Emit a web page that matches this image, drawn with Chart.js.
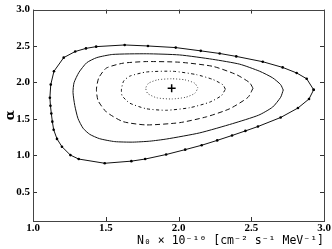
<!DOCTYPE html>
<html>
<head>
<meta charset="utf-8">
<script src="https://cdn.jsdelivr.net/npm/chart.js@4"></script>
<style>
  body { margin: 0; background: #fff; }
  canvas { display: block; }
</style>
</head>
<body>
<canvas id="grafico" width="332" height="249"></canvas>
<script>
// ticks
const ticksN0 = [1.0, 1.5, 2.0, 2.5, 3.0];
const ticksAlpha = [0.5, 1.0, 1.5, 2.0, 2.5, 3.0];

// contorno externo (com pontos)
const externoN0 = [2.929, 2.881, 2.812, 2.716, 2.579, 2.397, 2.283, 2.153, 1.981, 1.790, 1.630, 1.434, 1.364, 1.290, 1.211, 1.144, 1.122, 1.116, 1.120, 1.126, 1.133, 1.142, 1.165, 1.199, 1.257, 1.314, 1.493, 1.676, 1.771, 1.915, 2.046, 2.159, 2.266, 2.368, 2.460, 2.546, 2.702, 2.821, 2.897];
const externoAlpha = [1.900, 2.051, 2.131, 2.207, 2.285, 2.358, 2.398, 2.434, 2.479, 2.501, 2.515, 2.492, 2.468, 2.425, 2.341, 2.154, 1.971, 1.790, 1.680, 1.574, 1.463, 1.352, 1.226, 1.119, 1.004, 0.950, 0.892, 0.921, 0.950, 1.012, 1.079, 1.139, 1.206, 1.273, 1.336, 1.396, 1.520, 1.650, 1.774];

// segundo contorno (linha cheia)
const segundoN0 = [2.720, 2.702, 2.647, 2.558, 2.421, 2.235, 2.008, 1.779, 1.548, 1.438, 1.369, 1.316, 1.282, 1.275, 1.287, 1.309, 1.344, 1.390, 1.458, 1.562, 1.685, 1.802, 1.919, 2.146, 2.372, 2.551, 2.647, 2.702];
const segundoAlpha = [1.897, 1.971, 2.064, 2.154, 2.251, 2.318, 2.378, 2.394, 2.385, 2.341, 2.271, 2.140, 1.997, 1.864, 1.686, 1.507, 1.373, 1.289, 1.229, 1.189, 1.182, 1.195, 1.225, 1.309, 1.436, 1.552, 1.663, 1.797];

// terceiro contorno (tracejado)
const tracejadoN0 = [2.512, 2.489, 2.398, 2.237, 2.008, 1.779, 1.619, 1.504, 1.452, 1.436, 1.447, 1.504, 1.619, 1.779, 2.008, 2.192, 2.352, 2.478];
const tracejadoAlpha = [1.921, 1.997, 2.108, 2.221, 2.278, 2.287, 2.265, 2.198, 2.064, 1.908, 1.753, 1.596, 1.463, 1.418, 1.449, 1.529, 1.640, 1.797];

// quarto contorno (traco-ponto)
const tracoPontoN0 = [2.322, 2.306, 2.237, 2.123, 1.962, 1.779, 1.665, 1.623, 1.608, 1.612, 1.665, 1.779, 1.917, 2.077, 2.214, 2.295];
const tracoPontoAlpha = [1.908, 1.967, 2.041, 2.108, 2.154, 2.144, 2.087, 2.020, 1.908, 1.820, 1.717, 1.640, 1.619, 1.654, 1.730, 1.820];

// contorno interno (pontilhado)
const internoN0 = [2.134, 2.111, 2.043, 1.953, 1.857, 1.795, 1.775, 1.788, 1.850, 1.953, 2.049, 2.111];
const internoAlpha = [1.924, 1.991, 2.037, 2.051, 2.037, 1.991, 1.924, 1.850, 1.790, 1.774, 1.797, 1.850];

// melhor ajuste
const melhorN0 = [1.953];
const melhorAlpha = [1.921];

function fecharContorno(xs, ys) {
  const pts = xs.map((x, i) => ({ x: x, y: ys[i] }));
  pts.push(pts[0]);
  return pts;
}

function contorno(xs, ys, dash, extra) {
  return Object.assign({
    data: fecharContorno(xs, ys),
    showLine: true,
    fill: false,
    borderColor: '#111',
    borderWidth: 1,
    borderDash: dash,
    pointRadius: 0,
    tension: 0.2
  }, extra || {});
}

// ticks para dentro e moldura
const moldura = {
  id: 'moldura',
  afterDatasetsDraw(chart) {
    const { ctx, chartArea: a, scales } = chart;
    ctx.save();
    ctx.strokeStyle = '#333';
    ctx.lineWidth = 1;
    ctx.beginPath();
    ticksN0.forEach((v) => {
      const px = Math.round(scales.x.getPixelForValue(v)) + 0.5;
      ctx.moveTo(px, a.bottom); ctx.lineTo(px, a.bottom - 4);
      ctx.moveTo(px, a.top); ctx.lineTo(px, a.top + 4);
    });
    ticksAlpha.forEach((v) => {
      const py = Math.round(scales.y.getPixelForValue(v)) + 0.5;
      ctx.moveTo(a.left, py); ctx.lineTo(a.left + 4, py);
      ctx.moveTo(a.right, py); ctx.lineTo(a.right - 4, py);
    });
    ctx.stroke();
    ctx.strokeStyle = '#444';
    ctx.strokeRect(Math.round(a.left) + 0.5, Math.round(a.top) + 0.5,
      Math.round(a.right - a.left), Math.round(a.bottom - a.top));
    ctx.restore();
  }
};

Chart.defaults.font.family = "'Liberation Serif', serif";
Chart.defaults.color = '#000';

new Chart(document.getElementById('grafico').getContext('2d'), {
  type: 'scatter',
  data: {
    datasets: [
      contorno(externoN0, externoAlpha, [], {
        pointRadius: 1.3,
        pointBackgroundColor: '#000',
        pointBorderWidth: 0,
        tension: 0
      }),
      contorno(segundoN0, segundoAlpha, []),
      contorno(tracejadoN0, tracejadoAlpha, [5, 3]),
      contorno(tracoPontoN0, tracoPontoAlpha, [3, 2.5, 1, 2.5]),
      contorno(internoN0, internoAlpha, [1, 2], { borderColor: '#444' }),
      {
        data: melhorN0.map((x, i) => ({ x: x, y: melhorAlpha[i] })),
        pointStyle: 'cross',
        pointRadius: 4,
        borderColor: '#000',
        borderWidth: 1.5,
        showLine: false
      }
    ]
  },
  plugins: [moldura],
  options: {
    responsive: false,
    animation: false,
    layout: { padding: { top: 0, right: 8, left: 0, bottom: 0 } },
    plugins: {
      legend: { display: false },
      tooltip: { enabled: false }
    },
    scales: {
      x: {
        type: 'linear',
        min: 1.0,
        max: 3.0,
        grid: { display: false, drawTicks: false, tickLength: 0 },
        border: { display: false },
        afterBuildTicks: (scale) => { scale.ticks = ticksN0.map((v) => ({ value: v })); },
        afterFit: (scale) => { scale.height = 28; },
        ticks: {
          autoSkip: false,
          maxRotation: 0,
          padding: 1,
          font: { size: 11, weight: 'bold' },
          callback: (v) => v.toFixed(1)
        },
        title: {
          display: true,
          text: 'N₀ × 10⁻¹⁰ [cm⁻² s⁻¹ MeV⁻¹]',
          align: 'end',
          font: { family: "'DejaVu Sans Mono', monospace", size: 11.5 },
          padding: { top: 0, bottom: 1 }
        }
      },
      y: {
        type: 'linear',
        min: 0.1,
        max: 3.0,
        grid: { display: false, drawTicks: false, tickLength: 0 },
        border: { display: false },
        afterBuildTicks: (scale) => { scale.ticks = ticksAlpha.map((v) => ({ value: v })); },
        afterFit: (scale) => { scale.width = 33; },
        ticks: {
          autoSkip: false,
          padding: 3,
          font: { size: 11, weight: 'bold' },
          callback: (v) => v.toFixed(1)
        },
        title: {
          display: true,
          text: 'α',
          font: { family: "'DejaVu Serif', serif", size: 13, weight: 'bold' },
          padding: { top: 3, bottom: 0 }
        }
      }
    }
  }
});
</script>
</body>
</html>
